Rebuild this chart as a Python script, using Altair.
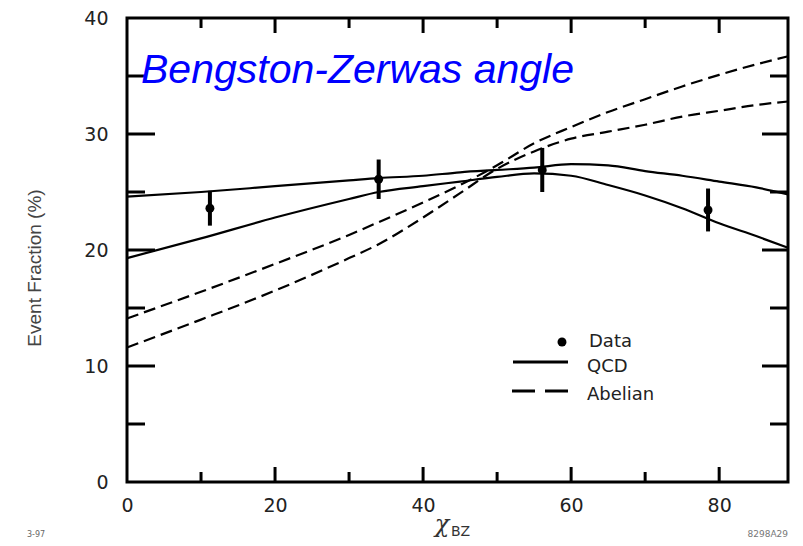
import altair as alt
import pandas as pd

# ---------------- data ----------------
X_MAX = 89.3
curve_x = [0, 10, 20, 30, 34, 40, 45, 50, 55, 60, 65, 70, 75, 80, 85, 89.3]
qcd_upper = [24.6, 25.0, 25.5, 26.0, 26.2, 26.4, 26.7, 26.9, 27.1, 27.4, 27.3, 26.8, 26.4, 25.9, 25.4, 24.8]
qcd_lower = [19.3, 21.0, 22.8, 24.4, 25.0, 25.5, 25.9, 26.3, 26.6, 26.4, 25.6, 24.7, 23.6, 22.3, 21.2, 20.2]
abelian_upper = [14.1, 16.4, 18.8, 21.3, 22.4, 24.1, 25.6, 27.3, 29.2, 30.6, 31.9, 33.0, 34.1, 35.1, 36.0, 36.7]
abelian_lower = [11.6, 14.0, 16.5, 19.3, 20.5, 22.8, 24.9, 27.0, 28.5, 29.6, 30.2, 30.8, 31.5, 32.0, 32.5, 32.8]

data_x = [11.2, 34.0, 56.1, 78.5]
data_y = [23.6, 26.1, 26.9, 23.45]
data_err = [1.5, 1.7, 1.9, 1.85]

x_labels = [0, 20, 40, 60, 80]
y_labels = [0, 10, 20, 30, 40]
x_ticks_major = [20, 40, 60, 80]
x_ticks_minor = [10, 30, 50, 70]
y_ticks_major = [10, 20, 30]
y_ticks_minor = [5, 15, 25, 35]

legend_labels = ["Data", "QCD", "Abelian"]
title_text = "Bengston-Zerwas angle"
y_title = "Event Fraction  (%)"
x_title_main = "χ"
x_title_sub = "BZ"
note_left = "3-97"
note_right = "8298A29"

# ---------------- tables ----------------
def curves(pairs):
    rows = []
    for name, ys in pairs:
        for xv, yv in zip(curve_x, ys):
            rows.append({"x": xv, "y": yv, "series": name})
    return pd.DataFrame(rows)

qcd_df = curves([("QCD 1", qcd_upper), ("QCD 2", qcd_lower)])
abel_df = curves([("Abelian 1", abelian_upper), ("Abelian 2", abelian_lower)])
pts_df = pd.DataFrame({"x": data_x, "y": data_y, "err": data_err})
pts_df["lo"] = pts_df["y"] - pts_df["err"]
pts_df["hi"] = pts_df["y"] + pts_df["err"]

W, H = 661, 464
xs = alt.Scale(domain=[0, X_MAX], nice=False, zero=False)
ys = alt.Scale(domain=[0, 40], nice=False, zero=False)

xaxis = alt.Axis(values=x_labels, title=None, ticks=False, domain=False, grid=False,
                 labelFont="DejaVu Sans", labelFontSize=19, labelColor="#222",
                 labelPadding=14, labelFlush=False, labelOverlap=False)
yaxis = alt.Axis(values=y_labels, title=None, ticks=False, domain=False, grid=False,
                 labelFont="DejaVu Sans", labelFontSize=19, labelColor="#222",
                 labelPadding=19, labelOverlap=False)

def X(field):
    return alt.X(field, type="quantitative", scale=xs, axis=xaxis)

def Y(field):
    return alt.Y(field, type="quantitative", scale=ys, axis=yaxis)

qcd = alt.Chart(qcd_df).mark_line(color="black", strokeWidth=2.2, interpolate="monotone").encode(
    x=X("x"), y=Y("y"), detail="series:N",
)
abel = alt.Chart(abel_df).mark_line(color="black", strokeWidth=2.2, strokeDash=[12, 6],
                                    interpolate="monotone").encode(
    x=X("x"), y=Y("y"), detail="series:N",
)
bars = alt.Chart(pts_df).mark_rule(color="black", strokeWidth=4).encode(
    x=X("x"), y=Y("lo"), y2="hi:Q",
)
dots = alt.Chart(pts_df).mark_circle(color="black", size=80, opacity=1).encode(
    x=X("x"), y=Y("y"),
)

def ticks(values, side, length):
    df = pd.DataFrame({"v": values})
    m = alt.Chart(df).mark_rule(color="black", strokeWidth=3)
    if side == "bottom":
        return m.encode(x=X("v"), y=alt.value(H), y2=alt.value(H - length))
    if side == "top":
        return m.encode(x=X("v"), y=alt.value(0), y2=alt.value(length))
    if side == "left":
        return m.encode(y=Y("v"), x=alt.value(0), x2=alt.value(length))
    return m.encode(y=Y("v"), x=alt.value(W), x2=alt.value(W - length))

tick_layers = [
    ticks(x_ticks_major, "bottom", 15), ticks(x_ticks_minor, "bottom", 10),
    ticks(x_ticks_major, "top", 15), ticks(x_ticks_minor, "top", 10),
    ticks(y_ticks_major, "left", 28), ticks(y_ticks_minor, "left", 18),
    ticks(y_ticks_major, "right", 26), ticks(y_ticks_minor, "right", 18),
]

one = pd.DataFrame({"k": [0]})

def label(text, x, y, **kw):
    return alt.Chart(one).mark_text(text=text, **kw).encode(x=alt.value(x), y=alt.value(y))

texts = [
    label(title_text, 14, 65, font="Liberation Sans", fontSize=41, fontStyle="italic",
          color="#0000FF", align="left", baseline="alphabetic"),
    label(y_title, -92, 250, font="Liberation Sans", fontSize=19, color="#444",
          angle=270, align="center", baseline="middle"),
    label(x_title_main, 315, 514, font="DejaVu Serif", fontSize=24, fontStyle="italic",
          color="#333", align="center", baseline="alphabetic"),
    label(x_title_sub, 324, 518, font="DejaVu Sans", fontSize=14, color="#333",
          align="left", baseline="alphabetic"),
    label(note_left, -100, 519, font="DejaVu Sans", fontSize=8, color="#666",
          align="left", baseline="alphabetic"),
    label(note_right, 661, 519, font="DejaVu Sans", fontSize=9, color="#777",
          align="right", baseline="alphabetic"),
    label(legend_labels[0], 462, 324, font="DejaVu Sans", fontSize=18, color="#222",
          align="left", baseline="middle"),
    label(legend_labels[1], 460, 349, font="DejaVu Sans", fontSize=18, color="#222",
          align="left", baseline="middle"),
    label(legend_labels[2], 460, 377, font="DejaVu Sans", fontSize=18, color="#222",
          align="left", baseline="middle"),
]

legend_marks = [
    alt.Chart(one).mark_circle(color="black", size=80, opacity=1).encode(
        x=alt.value(435), y=alt.value(324)),
    alt.Chart(one).mark_rule(color="black", strokeWidth=3).encode(
        x=alt.value(386), x2=alt.value(441), y=alt.value(344)),
    alt.Chart(one).mark_rule(color="black", strokeWidth=3, strokeDash=[23, 10]).encode(
        x=alt.value(385), x2=alt.value(441), y=alt.value(373)),
]

chart = alt.layer(qcd, abel, bars, dots, *tick_layers, *legend_marks, *texts).properties(
    width=W, height=H,
    padding={"left": 119, "top": 10, "right": 7, "bottom": 56},
    autosize=alt.AutoSizeParams(type="none"),
    background="white",
).configure_view(stroke="black", strokeWidth=3)

chart.save("out.html", embed_options={"renderer": "svg", "actions": False})
